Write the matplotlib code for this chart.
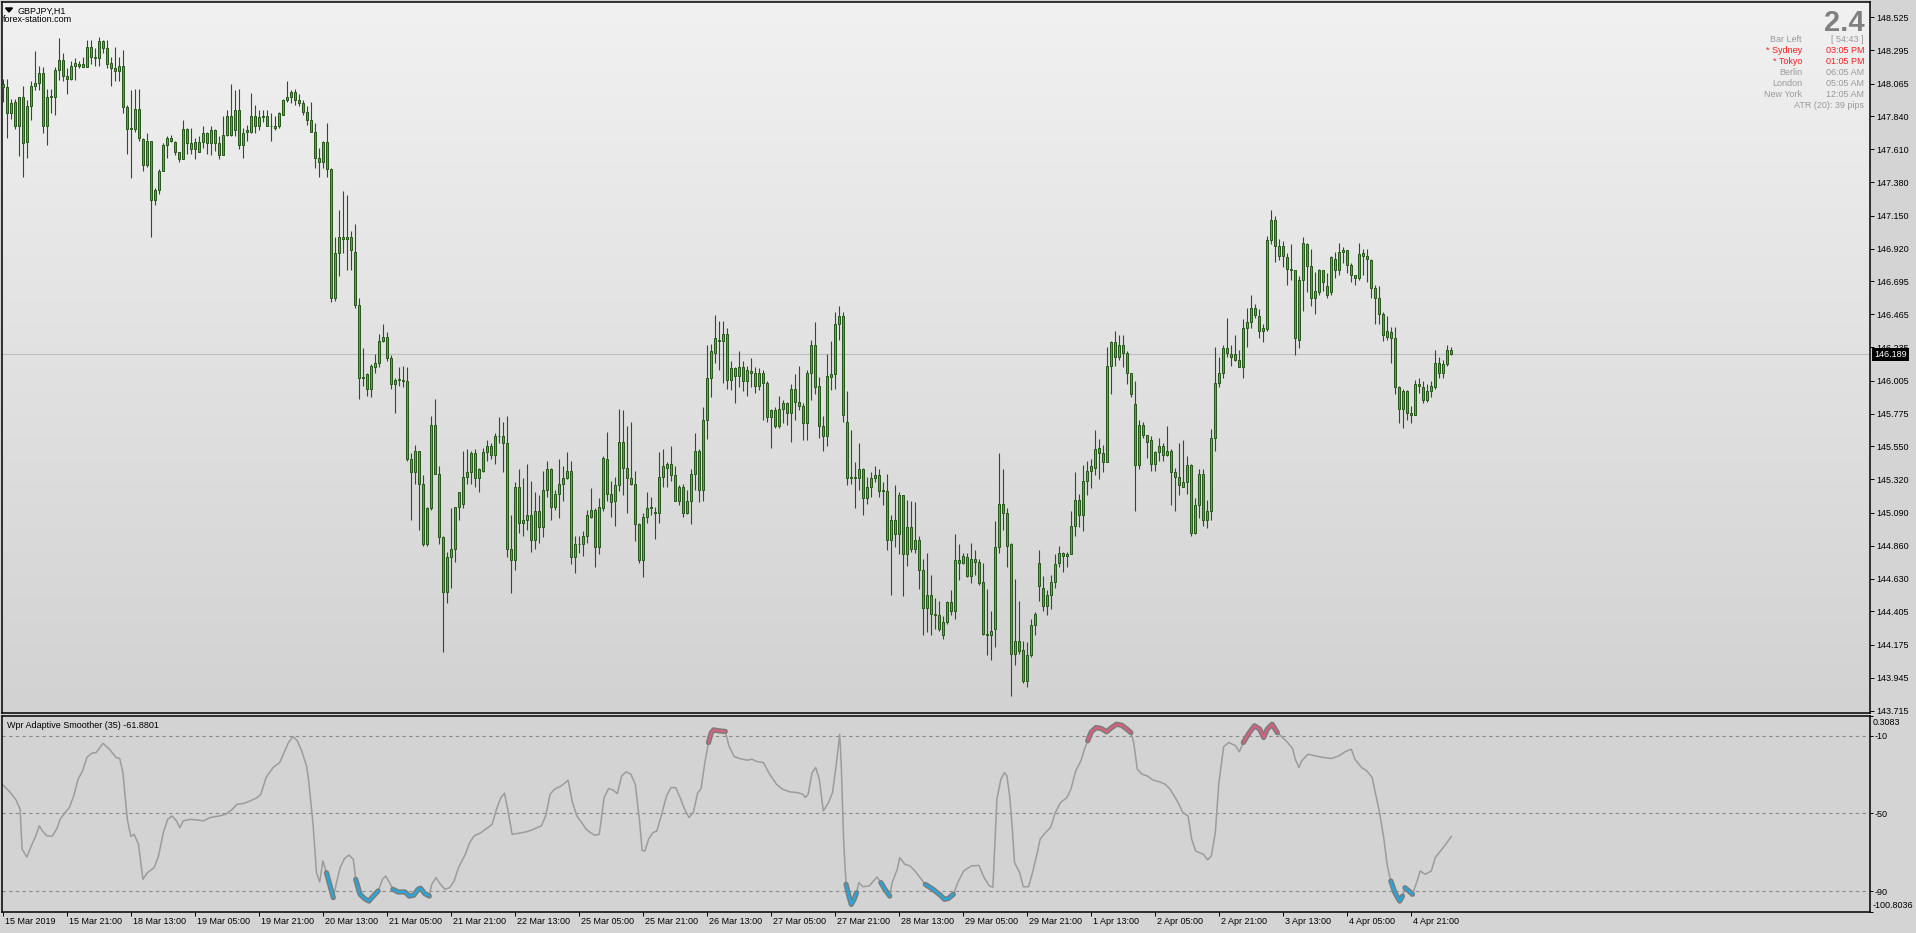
import numpy as np
import matplotlib
matplotlib.use("Agg")
import matplotlib.pyplot as plt
from matplotlib.colors import LinearSegmentedColormap
from matplotlib.patches import Polygon
import matplotlib.transforms as mtrans

plt.rcParams['font.family'] = ['Liberation Sans', 'DejaVu Sans']

# ---------------- data ----------------
symbol_title = "GBPJPY,H1"
site_text = "forex-station.com"
indicator_title = "Wpr Adaptive Smoother (35) -61.8801"

opens = [
    148.06, 148.04, 147.86, 147.94, 147.77, 147.97, 147.66, 147.91, 148.05, 148.07,
    148.14, 147.77, 147.98, 147.97, 148.16, 148.23, 148.12, 148.10, 148.19, 148.20,
    148.18, 148.18, 148.32, 148.25, 148.24, 148.36, 148.31, 148.21, 148.17, 148.15,
    148.19, 147.90, 147.76, 147.75, 147.89, 147.68, 147.50, 147.67, 147.26, 147.33,
    147.46, 147.64, 147.69, 147.66, 147.59, 147.54, 147.75, 147.61, 147.66, 147.59,
    147.66, 147.72, 147.65, 147.74, 147.65, 147.57, 147.71, 147.84, 147.74, 147.88,
    147.64, 147.73, 147.73, 147.84, 147.77, 147.83, 147.84, 147.77, 147.77, 147.77,
    147.85, 147.95, 147.97, 148.01, 147.95, 147.93, 147.87, 147.81, 147.73, 147.52,
    147.52, 147.66, 147.47, 146.58, 146.89, 146.99, 146.99, 147.00, 146.90, 146.53,
    146.02, 146.05, 145.95, 146.10, 146.13, 146.28, 146.31, 146.16, 145.98, 146.01,
    146.01, 146.00, 145.46, 145.37, 145.52, 145.29, 144.87, 145.12, 145.70, 145.36,
    144.92, 144.54, 144.78, 144.84, 145.13, 145.15, 145.34, 145.37, 145.50, 145.33,
    145.38, 145.51, 145.55, 145.49, 145.62, 145.62, 145.57, 144.84, 144.76, 145.27,
    145.02, 145.04, 145.07, 144.90, 145.10, 144.99, 145.25, 145.39, 145.13, 145.22,
    145.29, 145.33, 145.38, 144.78, 144.87, 144.87, 144.93, 145.06, 145.11, 144.85,
    145.12, 145.46, 145.22, 145.17, 145.28, 145.58, 145.40, 145.33, 145.29, 145.01,
    144.76, 145.06, 145.12, 145.09, 145.09, 145.34, 145.40, 145.43, 145.35, 145.17,
    145.27, 145.09, 145.17, 145.36, 145.52, 145.25, 145.73, 146.02, 146.20, 146.29,
    146.28, 146.33, 146.01, 146.04, 146.04, 146.10, 146.00, 146.06, 146.06, 145.97,
    146.06, 145.99, 145.75, 145.80, 145.69, 145.81, 145.85, 145.78, 145.95, 145.86,
    145.83, 145.71, 146.06, 146.25, 145.97, 145.69, 145.62, 146.03, 146.05, 146.40,
    146.45, 145.72, 145.33, 145.33, 145.33, 145.39, 145.19, 145.27, 145.33, 145.35,
    145.24, 145.24, 144.90, 145.04, 144.94, 145.21, 144.80, 144.99, 144.84, 144.90,
    144.69, 144.43, 144.52, 144.39, 144.38, 144.24, 144.33, 144.47, 144.41, 144.76,
    144.74, 144.78, 144.65, 144.77, 144.75, 144.61, 144.24, 144.24, 144.28, 144.85,
    145.15, 145.09, 144.87, 144.11, 144.20, 144.14, 143.92, 144.10, 144.31, 144.74,
    144.57, 144.44, 144.52, 144.61, 144.74, 144.81, 144.79, 144.80, 145.00, 145.18,
    145.07, 145.31, 145.38, 145.40, 145.54, 145.50, 145.44, 146.11, 146.27, 146.17,
    146.25, 146.20, 146.06, 145.84, 145.42, 145.70, 145.63, 145.59, 145.43, 145.51,
    145.55, 145.49, 145.52, 145.37, 145.34, 145.27, 145.30, 145.42, 144.95, 145.14,
    145.36, 145.04, 145.10, 145.61, 145.99, 146.06, 146.23, 146.17, 146.19, 146.15,
    146.10, 146.37, 146.41, 146.51, 146.45, 146.35, 146.36, 146.98, 147.12, 146.87,
    146.94, 146.86, 146.78, 146.77, 146.29, 146.70, 146.95, 146.80, 146.58, 146.62,
    146.77, 146.66, 146.62, 146.77, 146.77, 146.90, 146.91, 146.81, 146.74, 146.72,
    146.87, 146.87, 146.84, 146.65, 146.58, 146.47, 146.31, 146.34, 146.30, 145.96,
    145.81, 145.93, 145.78, 145.77, 145.98, 145.96, 145.87, 145.93, 145.96, 146.13,
    146.06, 146.12, 146.22,
]

highs = [
    148.10, 148.10, 147.96, 147.96, 147.97, 148.05, 147.95, 148.08, 148.29, 148.19,
    148.18, 148.03, 148.03, 148.18, 148.38, 148.28, 148.17, 148.22, 148.24, 148.22,
    148.25, 148.37, 148.37, 148.31, 148.39, 148.37, 148.37, 148.25, 148.32, 148.25,
    148.30, 147.92, 148.02, 148.03, 148.03, 147.69, 147.72, 147.67, 147.34, 147.47,
    147.65, 147.70, 147.71, 147.67, 147.59, 147.81, 147.76, 147.76, 147.69, 147.70,
    147.77, 147.73, 147.77, 147.75, 147.70, 147.84, 147.88, 148.06, 148.02, 148.03,
    147.76, 147.78, 148.00, 147.92, 147.88, 147.88, 147.88, 147.86, 147.84, 147.87,
    147.96, 148.08, 148.02, 148.03, 147.99, 147.95, 147.91, 147.94, 147.79, 147.62,
    147.67, 147.79, 147.48, 147.00, 147.19, 147.32, 147.29, 147.04, 147.09, 146.58,
    146.23, 146.06, 146.12, 146.19, 146.33, 146.40, 146.34, 146.18, 146.02, 146.10,
    146.11, 146.10, 145.50, 145.56, 145.52, 145.35, 145.13, 145.76, 145.88, 145.41,
    144.93, 144.82, 145.12, 145.13, 145.23, 145.52, 145.53, 145.52, 145.53, 145.40,
    145.54, 145.59, 145.57, 145.64, 145.75, 145.72, 145.76, 145.07, 145.30, 145.39,
    145.33, 145.43, 145.31, 145.23, 145.21, 145.38, 145.45, 145.40, 145.25, 145.46,
    145.41, 145.51, 145.45, 144.93, 144.93, 144.96, 145.11, 145.26, 145.12, 145.19,
    145.48, 145.65, 145.31, 145.34, 145.81, 145.80, 145.69, 145.72, 145.38, 145.02,
    145.09, 145.23, 145.20, 145.13, 145.51, 145.53, 145.44, 145.55, 145.41, 145.28,
    145.29, 145.25, 145.39, 145.64, 145.53, 145.82, 146.25, 146.26, 146.46, 146.42,
    146.42, 146.37, 146.14, 146.10, 146.21, 146.14, 146.11, 146.16, 146.10, 146.09,
    146.08, 146.00, 145.81, 145.82, 145.90, 145.87, 145.86, 145.98, 146.05, 146.11,
    145.85, 146.08, 146.29, 146.41, 146.03, 145.76, 146.19, 146.28, 146.48, 146.52,
    146.48, 145.93, 145.66, 145.44, 145.57, 145.40, 145.34, 145.37, 145.41, 145.39,
    145.30, 145.36, 145.07, 145.28, 145.23, 145.21, 145.18, 145.17, 145.16, 144.93,
    144.77, 144.81, 144.66, 144.50, 144.48, 144.37, 144.48, 144.55, 144.94, 144.87,
    144.81, 144.81, 144.88, 144.83, 144.77, 144.74, 144.56, 144.41, 145.03, 145.50,
    145.39, 145.12, 144.88, 144.63, 144.48, 144.20, 144.19, 144.35, 144.40, 144.83,
    144.65, 144.55, 144.66, 144.80, 144.86, 144.82, 144.82, 145.10, 145.37, 145.22,
    145.42, 145.45, 145.46, 145.66, 145.60, 145.56, 146.24, 146.28, 146.35, 146.32,
    146.32, 146.21, 146.06, 146.00, 145.73, 145.72, 145.63, 145.62, 145.52, 145.61,
    145.57, 145.69, 145.53, 145.40, 145.57, 145.59, 145.48, 145.43, 145.19, 145.39,
    145.39, 145.18, 145.67, 146.24, 146.17, 146.25, 146.44, 146.25, 146.32, 146.22,
    146.43, 146.51, 146.60, 146.54, 146.50, 146.40, 147.01, 147.19, 147.15, 146.99,
    146.97, 146.89, 146.95, 146.77, 146.73, 147.00, 146.96, 146.92, 146.76, 146.78,
    146.77, 146.75, 146.87, 146.90, 146.96, 146.93, 146.91, 146.82, 146.74, 146.96,
    146.92, 146.92, 146.85, 146.67, 146.66, 146.48, 146.45, 146.38, 146.38, 145.97,
    145.95, 145.94, 145.83, 146.01, 146.02, 146.00, 145.98, 146.00, 146.22, 146.17,
    146.15, 146.25, 146.24,
]

lows = [
    147.94, 147.69, 147.82, 147.75, 147.56, 147.42, 147.55, 147.81, 148.02, 148.02,
    147.72, 147.64, 147.86, 147.85, 148.09, 148.08, 147.99, 148.09, 148.09, 148.17,
    148.18, 148.18, 148.20, 148.19, 148.19, 148.28, 148.17, 148.05, 148.08, 148.08,
    147.86, 147.58, 147.41, 147.73, 147.67, 147.46, 147.49, 147.00, 147.22, 147.30,
    147.46, 147.55, 147.66, 147.57, 147.52, 147.54, 147.58, 147.58, 147.54, 147.59,
    147.62, 147.58, 147.57, 147.60, 147.54, 147.57, 147.70, 147.70, 147.70, 147.61,
    147.55, 147.67, 147.72, 147.72, 147.74, 147.80, 147.77, 147.67, 147.74, 147.76,
    147.85, 147.94, 147.93, 147.92, 147.91, 147.85, 147.78, 147.73, 147.48, 147.42,
    147.48, 147.42, 146.55, 146.56, 146.73, 146.89, 146.77, 146.77, 146.51, 145.88,
    145.97, 145.90, 145.89, 146.06, 146.10, 146.27, 146.14, 145.95, 145.78, 145.97,
    145.96, 145.45, 145.04, 145.29, 144.97, 144.86, 144.86, 145.11, 145.36, 144.87,
    144.12, 144.46, 144.57, 144.75, 145.04, 145.12, 145.29, 145.29, 145.27, 145.23,
    145.37, 145.45, 145.46, 145.43, 145.57, 145.37, 144.78, 144.53, 144.69, 144.95,
    144.93, 144.97, 144.82, 144.84, 144.88, 144.92, 145.20, 145.04, 145.11, 145.05,
    145.17, 145.32, 144.73, 144.67, 144.81, 144.79, 144.88, 145.05, 144.71, 144.80,
    145.10, 145.17, 145.06, 145.00, 145.24, 145.21, 145.09, 145.28, 144.89, 144.74,
    144.64, 145.02, 145.07, 144.91, 145.02, 145.27, 145.27, 145.31, 145.17, 145.14,
    145.06, 145.08, 145.01, 145.25, 145.16, 145.17, 145.60, 145.89, 146.13, 146.08,
    145.99, 145.95, 145.94, 145.85, 145.96, 145.93, 145.90, 145.96, 145.92, 145.94,
    145.73, 145.72, 145.54, 145.68, 145.68, 145.71, 145.70, 145.58, 145.73, 145.80,
    145.59, 145.59, 145.87, 145.91, 145.61, 145.52, 145.55, 145.94, 145.95, 146.29,
    145.72, 145.28, 145.29, 145.12, 145.25, 145.07, 145.15, 145.20, 145.30, 145.20,
    145.14, 144.83, 144.52, 144.85, 144.80, 144.51, 144.72, 144.82, 144.81, 144.56,
    144.24, 144.26, 144.24, 144.28, 144.27, 144.21, 144.32, 144.38, 144.35, 144.62,
    144.73, 144.64, 144.60, 144.66, 144.59, 144.24, 144.10, 144.07, 144.16, 144.81,
    144.97, 144.71, 143.82, 144.03, 144.11, 143.91, 143.88, 144.09, 144.24, 144.48,
    144.41, 144.38, 144.42, 144.57, 144.71, 144.68, 144.71, 144.80, 144.93, 144.99,
    144.96, 145.21, 145.26, 145.35, 145.32, 145.37, 145.44, 145.91, 146.11, 146.15,
    146.10, 145.98, 145.89, 145.10, 145.39, 145.61, 145.47, 145.38, 145.38, 145.45,
    145.45, 145.48, 145.14, 145.10, 145.21, 145.27, 145.22, 144.93, 144.94, 145.05,
    145.00, 144.98, 145.04, 145.52, 145.96, 146.02, 146.17, 146.11, 146.14, 146.10,
    146.02, 146.24, 146.37, 146.44, 146.30, 146.27, 146.35, 146.95, 146.83, 146.84,
    146.79, 146.67, 146.70, 146.18, 146.23, 146.49, 146.62, 146.52, 146.47, 146.60,
    146.63, 146.58, 146.60, 146.72, 146.74, 146.82, 146.75, 146.69, 146.67, 146.70,
    146.74, 146.69, 146.58, 146.40, 146.40, 146.28, 146.29, 146.13, 145.91, 145.71,
    145.68, 145.73, 145.71, 145.77, 145.92, 145.85, 145.86, 145.89, 145.95, 146.02,
    146.02, 146.11, 146.18,
]

closes = [
    148.04, 147.86, 147.93, 147.77, 147.97, 147.65, 147.91, 148.05, 148.07, 148.14,
    147.77, 147.97, 147.97, 148.16, 148.23, 148.12, 148.10, 148.19, 148.21, 148.19,
    148.20, 148.32, 148.25, 148.24, 148.36, 148.31, 148.20, 148.17, 148.15, 148.19,
    147.90, 147.75, 147.75, 147.89, 147.69, 147.50, 147.67, 147.26, 147.33, 147.46,
    147.64, 147.69, 147.67, 147.59, 147.54, 147.75, 147.65, 147.65, 147.61, 147.66,
    147.72, 147.65, 147.74, 147.65, 147.57, 147.71, 147.84, 147.71, 147.88, 147.64,
    147.72, 147.74, 147.84, 147.77, 147.83, 147.84, 147.77, 147.77, 147.76, 147.86,
    147.95, 147.97, 148.01, 147.95, 147.93, 147.87, 147.81, 147.73, 147.55, 147.55,
    147.66, 147.47, 146.58, 146.89, 147.00, 147.00, 147.00, 146.91, 146.53, 146.02,
    146.03, 145.95, 146.11, 146.13, 146.28, 146.31, 146.16, 145.98, 146.01, 146.01,
    146.00, 145.46, 145.37, 145.52, 145.29, 144.87, 145.12, 145.70, 145.36, 144.92,
    144.54, 144.78, 144.84, 145.13, 145.23, 145.34, 145.37, 145.50, 145.33, 145.39,
    145.51, 145.55, 145.49, 145.62, 145.62, 145.57, 144.84, 144.76, 145.27, 145.02,
    145.04, 145.07, 144.90, 145.10, 144.99, 145.25, 145.39, 145.13, 145.22, 145.29,
    145.33, 145.38, 144.78, 144.87, 144.87, 144.93, 145.07, 145.11, 144.85, 145.13,
    145.47, 145.22, 145.16, 145.28, 145.58, 145.40, 145.33, 145.29, 145.01, 144.76,
    145.06, 145.12, 145.13, 145.09, 145.34, 145.41, 145.43, 145.35, 145.17, 145.27,
    145.09, 145.17, 145.36, 145.52, 145.25, 145.73, 146.02, 146.21, 146.30, 146.28,
    146.33, 146.01, 146.09, 146.09, 146.10, 146.00, 146.08, 146.07, 145.97, 146.06,
    145.99, 145.75, 145.80, 145.69, 145.81, 145.85, 145.78, 145.95, 145.86, 145.83,
    145.71, 146.06, 146.25, 145.96, 145.69, 145.62, 146.04, 146.05, 146.40, 146.45,
    145.77, 145.33, 145.34, 145.33, 145.39, 145.19, 145.27, 145.33, 145.35, 145.24,
    145.24, 144.90, 145.04, 144.94, 145.21, 144.80, 144.99, 144.84, 144.90, 144.69,
    144.43, 144.52, 144.39, 144.38, 144.28, 144.33, 144.47, 144.41, 144.76, 144.74,
    144.79, 144.65, 144.77, 144.75, 144.60, 144.25, 144.25, 144.27, 144.85, 145.15,
    145.09, 144.86, 144.11, 144.20, 144.13, 143.92, 144.10, 144.31, 144.39, 144.58,
    144.44, 144.52, 144.61, 144.73, 144.81, 144.79, 144.80, 145.00, 145.18, 145.07,
    145.31, 145.38, 145.41, 145.53, 145.50, 145.44, 146.11, 146.27, 146.17, 146.25,
    146.20, 146.06, 145.91, 145.42, 145.70, 145.63, 145.58, 145.43, 145.51, 145.55,
    145.49, 145.52, 145.37, 145.34, 145.28, 145.30, 145.42, 144.95, 145.14, 145.36,
    145.04, 145.10, 145.61, 145.99, 146.06, 146.23, 146.20, 146.19, 146.15, 146.10,
    146.37, 146.41, 146.51, 146.46, 146.35, 146.37, 146.98, 147.12, 146.94, 146.94,
    146.87, 146.78, 146.77, 146.30, 146.70, 146.96, 146.80, 146.58, 146.63, 146.77,
    146.69, 146.60, 146.86, 146.85, 146.90, 146.91, 146.81, 146.74, 146.72, 146.88,
    146.89, 146.85, 146.65, 146.58, 146.47, 146.32, 146.35, 146.30, 145.96, 145.81,
    145.93, 145.78, 145.77, 145.98, 145.97, 145.87, 145.93, 145.97, 146.13, 146.06,
    146.12, 146.22, 146.189,
]

# WPR adaptive smoother: traced vertices (bar position, value)
wpr_bar = [
    0.0, 1.4, 3.1, 4.2, 4.7, 5.9, 7.0, 8.1, 9.0, 9.8,
    10.9, 12.3, 13.5, 14.2, 15.4, 16.5, 17.6, 18.7, 19.8, 20.9,
    22.1, 23.2, 24.9, 26.5, 28.2, 29.1, 29.9, 31.0, 31.9, 32.7,
    33.8, 34.9, 36.0, 37.7, 38.8, 40.0, 41.1, 42.2, 43.3, 44.1,
    45.0, 46.7, 48.4, 50.0, 51.7, 53.9, 55.6, 57.3, 58.4, 60.1,
    61.8, 63.5, 64.4, 65.7, 67.4, 69.1, 70.2, 71.3, 72.4, 73.5,
    74.6, 75.8, 76.3, 77.4, 78.3, 79.1, 79.9, 80.8, 81.7, 82.5,
    83.3, 84.2, 85.3, 86.4, 87.5, 88.1, 89.2, 90.3, 91.4, 92.5,
    93.7, 94.8, 95.6, 96.5, 97.4, 98.7, 100.4, 101.5, 102.6, 103.7,
    104.3, 105.4, 106.5, 107.1, 108.2, 109.3, 110.4, 111.6, 112.7, 113.8,
    115.5, 116.6, 117.7, 119.4, 121.1, 122.2, 123.3, 124.4, 125.3, 126.1,
    127.2, 128.9, 130.6, 132.2, 133.4, 134.5, 135.6, 136.7, 137.8, 139.5,
    141.2, 142.3, 143.4, 144.6, 145.7, 146.8, 147.9, 149.0, 150.2, 151.3,
    152.4, 153.5, 154.6, 155.7, 156.9, 158.0, 159.1, 159.7, 160.4, 161.3,
    162.4, 163.4, 164.7, 165.8, 166.9, 168.1, 169.2, 170.3, 171.4, 172.5,
    173.6,
    174.4, 175.4, 176.3, 177.0, 177.6, 178.9, 180.5, 181.4, 182.7, 184.0,
    185.9, 187.2, 188.4, 190.0, 191.6, 193.3, 194.8, 196.7, 198.6, 199.9,
    200.5, 201.2, 202.2, 203.1, 204.0, 205.0, 206.3, 207.3, 208.2, 209.1,
    209.5, 210.1, 210.7, 211.4, 212.0, 212.7, 213.3, 213.9, 214.9, 216.5,
    218.4, 219.4, 220.3, 221.6, 222.2, 223.5, 224.1, 225.4, 226.7, 227.9,
    229.2, 230.5, 232.4, 234.3, 235.3, 236.3, 237.5, 238.8, 240.1, 242.0,
    243.9, 245.2, 246.5, 247.4, 248.4, 249.4, 250.3, 250.9, 251.6, 252.2,
    252.8, 254.1, 255.0, 256.3, 257.3, 258.6, 259.2, 260.5, 261.8, 263.0,
    264.3, 265.9, 266.9, 268.1, 269.4, 270.3, 271.1, 272.0, 273.2, 274.5,
    275.8, 277.1, 278.3, 279.6, 280.9, 281.9, 282.6, 283.5, 284.7, 286.0,
    287.3, 289.2, 290.5, 291.7, 293.7, 294.9, 296.2, 297.1, 298.1, 299.1,
    300.0, 301.1, 302.0, 303.0, 303.9, 305.1, 306.4, 308.1, 309.0, 310.0,
    311.5, 312.8, 314.1, 315.1, 316.0, 317.2, 318.5, 319.8, 321.1, 322.3,
    323.0, 323.9, 324.6, 326.2, 328.1, 330.0, 332.0, 333.9, 335.4, 337.0,
    337.9, 339.6, 340.9, 342.2, 343.0, 344.0, 345.1, 346.0, 346.9, 347.9,
    349.1, 349.8, 350.4, 351.4, 352.3, 353.6, 354.2, 355.5, 357.0, 358.0,
    359.3, 360.6, 362.0,
]

wpr_val = [
    -35.6, -38.5, -42.8, -47.9, -68.5, -72.5, -66.8, -61.7, -56.5, -59.1,
    -61.7, -61.7, -57.4, -53.1, -49.7, -47.1, -41.1, -32.5, -28.2, -21.3,
    -19.1, -18.8, -14.0, -17.0, -21.3, -21.8, -29.1, -53.1, -62.0, -60.8,
    -66.0, -84.0, -80.6, -78.0, -72.0, -60.0, -53.1, -51.4, -53.9, -57.4,
    -53.9, -53.1, -53.4, -53.9, -52.2, -51.4, -50.5, -47.9, -45.4, -44.9,
    -43.6, -41.9, -40.2, -31.6, -26.5, -23.9, -18.8, -13.6, -10.5, -12.7,
    -17.9, -25.6, -32.5, -54.8, -80.6, -85.4, -74.5, -80.6, -87.4, -93.4,
    -85.7, -78.0, -73.3, -71.5, -73.7, -84.0, -91.7, -93.9, -95.2, -92.6,
    -90.0, -84.0, -82.3, -85.4, -89.1, -90.5, -90.5, -92.6, -92.2, -89.1,
    -88.6, -91.4, -92.6, -86.6, -83.1, -86.6, -89.1, -88.3, -84.9, -78.0,
    -71.1, -65.1, -61.7, -60.0, -57.4, -55.7, -47.9, -41.9, -39.7, -47.9,
    -60.8, -60.3, -59.6, -58.6, -57.4, -56.5, -51.4, -40.2, -37.6, -35.9,
    -33.0, -44.5, -51.4, -54.8, -58.2, -60.0, -61.3, -60.8, -41.9, -37.3,
    -38.0, -39.9, -30.8, -28.7, -29.9, -35.1, -54.8, -69.1, -69.4, -63.4,
    -60.0, -59.1, -49.7, -41.1, -36.8, -36.8, -41.9, -47.9, -52.2, -49.7,
    -39.4,
    -37.6, -23.9, -13.6, -8.5, -7.1, -7.6, -7.9, -15.3, -20.8, -21.8,
    -22.7, -22.2, -23.4, -23.9, -29.9, -35.1, -37.6, -39.0, -39.4, -40.2,
    -41.9, -40.2, -29.1, -26.5, -32.5, -48.8, -44.5, -39.4, -25.6, -9.3,
    -25.6, -65.1, -86.6, -92.6, -96.9, -94.3, -90.9, -85.7, -87.8, -87.4,
    -82.8, -85.7, -88.8, -92.6, -85.7, -78.8, -72.8, -76.3, -77.1, -79.7,
    -83.1, -86.6, -89.1, -92.2, -94.3, -93.8, -91.7, -84.9, -79.7, -77.1,
    -76.8, -83.1, -87.4, -88.0, -42.8, -32.5, -29.1, -30.8, -41.1, -56.5,
    -75.4, -80.6, -87.8, -87.8, -80.6, -69.4, -63.4, -60.0, -57.4, -49.7,
    -44.5, -41.9, -37.6, -28.2, -23.0, -17.0, -12.7, -8.1, -5.9, -6.4,
    -8.1, -5.9, -4.2, -4.7, -6.7, -8.5, -13.6, -27.3, -29.9, -30.8,
    -32.8, -33.9, -35.1, -37.6, -44.5, -49.7, -51.4, -63.4, -69.4, -70.3,
    -71.1, -74.0, -72.0, -60.0, -34.2, -15.7, -13.6, -15.3, -18.4, -13.6,
    -8.5, -5.0, -6.7, -11.0, -6.7, -4.2, -8.5, -11.0, -13.6, -16.7,
    -22.2, -26.5, -23.0, -19.6, -20.5, -21.3, -21.8, -20.5, -18.4, -17.0,
    -22.2, -26.5, -28.2, -31.6, -39.4, -48.8, -62.5, -77.1, -84.9, -90.9,
    -95.2, -92.6, -88.3, -90.0, -91.7, -84.0, -79.7, -81.4, -79.7, -72.8,
    -69.4, -66.0, -61.88,
]

# highlighted stretches (bar ranges) of the smoother
oversold_zones = [(80.8, 82.5), (88.1, 93.7), (97.4, 106.5), (210.7, 213.3),
                  (219.4, 221.6), (230.5, 237.5), (346.9, 349.8), (350.4, 352.3)]
overbought_zones = [(176.3, 180.5), (271.1, 281.9), (310.0, 318.5)]

time_labels = ["15 Mar 2019", "15 Mar 21:00", "18 Mar 13:00", "19 Mar 05:00",
               "19 Mar 21:00", "20 Mar 13:00", "21 Mar 05:00", "21 Mar 21:00",
               "22 Mar 13:00", "25 Mar 05:00", "25 Mar 21:00", "26 Mar 13:00",
               "27 Mar 05:00", "27 Mar 21:00", "28 Mar 13:00", "29 Mar 05:00",
               "29 Mar 21:00", "1 Apr 13:00", "2 Apr 05:00", "2 Apr 21:00",
               "3 Apr 13:00", "4 Apr 05:00", "4 Apr 21:00"]
label_step = 16

price_ticks = [148.525, 148.295, 148.065, 147.840, 147.610, 147.380, 147.150,
               146.920, 146.695, 146.465, 146.235, 146.005, 145.775, 145.550,
               145.320, 145.090, 144.860, 144.630, 144.405, 144.175, 143.945,
               143.715]
price_min, price_max = 143.700, 148.631
last_price = 146.189

ind_levels = [-10, -50, -90]
ind_min, ind_max = -100.8036, 0.3083

big_number = "2.4"
info_rows = [("Bar Left", "[ 54:43 ]", "gray"),
             ("* Sydney", "03:05 PM", "red"),
             ("* Tokyo", "01:05 PM", "red"),
             ("Berlin", "06:05 AM", "gray"),
             ("London", "05:05 AM", "gray"),
             ("New York", "12:05 AM", "gray")]
atr_text = "ATR (20): 39 pips"

# ---------------- figure ----------------
n = len(closes)
assert len(opens) == n and len(highs) == n and len(lows) == n
assert len(wpr_bar) == len(wpr_val)

W, H = 1916, 933
fig = plt.figure(figsize=(W / 100, H / 100), dpi=100)
fig.patch.set_facecolor('#D4D4D4')


def fx(px):
    return px / W


def fy(py):
    return 1 - py / H


ax = fig.add_axes([fx(2), fy(713), (1870 - 2) / W, (713 - 2) / H])
ax2 = fig.add_axes([fx(2), fy(912), (1870 - 2) / W, (912 - 715.5) / H])

x_left = -0.325
x_right = x_left + (1870 - 2) / 4.0

# gradient background of price panel
grad = np.linspace(0, 1, 256).reshape(-1, 1)
cmap = LinearSegmentedColormap.from_list('bg', ['#F1F1F1', '#D2D2D2'])
ax.imshow(grad, extent=[0, 1, 0, 1], transform=ax.transAxes, aspect='auto',
          cmap=cmap, origin='upper', zorder=0, interpolation='bilinear')

idx = np.arange(n)
o = np.array(opens)
c = np.array(closes)
h = np.array(highs)
l = np.array(lows)
bull = c >= o
edge = '#24561A'

ax.axhline(last_price, color='#BDBDBD', lw=0.8, zorder=1)
ax.vlines(idx, l, h, color=edge, lw=0.8, zorder=2)
body_bottom = np.minimum(o, c)
body_h = np.maximum(np.abs(c - o), 0.004)
ax.bar(idx[bull], body_h[bull], bottom=body_bottom[bull], width=0.55,
       color='#3CC03C', edgecolor=edge, linewidth=0.7, zorder=3)
ax.bar(idx[~bull], body_h[~bull], bottom=body_bottom[~bull], width=0.55,
       color='#D2693A', edgecolor=edge, linewidth=0.7, zorder=3)

for a in (ax, ax2):
    a.set_xlim(x_left, x_right)
    for s in a.spines.values():
        s.set_color('black')
        s.set_linewidth(1.1)

ax.set_ylim(price_min, price_max)
ax.yaxis.tick_right()
ax.set_yticks(price_ticks)
ax.set_yticklabels([f"{p:.3f}" for p in price_ticks])
ax.tick_params(axis='y', direction='out', length=3, width=0.7, labelsize=6.5,
               pad=1.8, colors='black')
ax.tick_params(axis='x', bottom=False, labelbottom=False)

# ---------------- indicator panel ----------------
ax2.set_facecolor('#D3D3D3')
ax2.set_ylim(ind_min, ind_max)
for lv in ind_levels:
    ax2.axhline(lv, color='#8A8A8A', lw=0.8, ls=(0, (3, 3)), zorder=1)

wb = np.array(wpr_bar)
wv = np.array(wpr_val)
ax2.plot(wb, wv, color='#9C9C9C', lw=1.1, zorder=2)
for zones, col in ((oversold_zones, '#22A9E0'), (overbought_zones, '#D8607E')):
    for a0, a1 in zones:
        m = (wb >= a0 - 1e-6) & (wb <= a1 + 1e-6)
        ax2.plot(wb[m], wv[m], color='#7C7C7C', lw=3.8, zorder=3,
                 solid_capstyle='round', solid_joinstyle='round')
        ax2.plot(wb[m], wv[m], color=col, lw=1.6, zorder=4,
                 solid_capstyle='round', solid_joinstyle='round')

ax2.yaxis.tick_right()
ax2.set_yticks([ind_max] + ind_levels + [ind_min])
ax2.set_yticklabels([''] + [str(v) for v in ind_levels] + [''])
ax2.tick_params(axis='y', direction='out', length=2, width=0.7, labelsize=6.5,
                pad=1, colors='black')
label_bars = [k * label_step for k in range(len(time_labels))]
ax2.set_xticks(label_bars)
ax2.set_xticklabels([])
ax2.tick_params(axis='x', direction='out', length=3, width=0.7)

trans = mtrans.blended_transform_factory(ax2.transData, fig.transFigure)
for b, lab in zip(label_bars, time_labels):
    ax2.text(b + 0.45, fy(924), lab, transform=trans, ha='left', va='baseline',
             fontsize=6.5, color='black', clip_on=False)

fig.text(fx(1873), fy(722.5), f"{ind_max:.4f}", fontsize=6.5, color='black', va='center')
fig.text(fx(1873), fy(905.5), f"{ind_min:.4f}", fontsize=6.5, color='black', va='center')
fig.text(fx(7), fy(728), indicator_title, fontsize=6.5, color='black', va='baseline')

# ---------------- header texts ----------------
tri = Polygon([[fx(5.5), fy(8)], [fx(12.5), fy(8)], [fx(9), fy(12)]], closed=True,
              transform=fig.transFigure, facecolor='black', edgecolor='black')
fig.add_artist(tri)
fig.text(fx(18), fy(14), symbol_title, fontsize=6.5, color='black', va='baseline')
fig.text(fx(3), fy(22.5), site_text, fontsize=6.5, color='black', va='baseline')

fig.text(fx(1865), fy(30.7), big_number, fontsize=21, fontweight='bold',
         color='#808080', ha='right', va='baseline')
colors = {'gray': '#9A9A9A', 'red': '#FF1A1A'}
for k, (lab, val, col) in enumerate(info_rows):
    yb = 42.3 + 11.0 * k
    fig.text(fx(1802), fy(yb), lab, fontsize=6.5, color=colors[col], ha='right', va='baseline')
    fig.text(fx(1864), fy(yb), val, fontsize=6.5, color=colors[col], ha='right', va='baseline')
fig.text(fx(1864), fy(42.3 + 11.0 * len(info_rows)), atr_text, fontsize=6.5,
         color=colors['gray'], ha='right', va='baseline')

# current price tag
fig.text(fx(1874), fy(354.3), f"{last_price:.3f}", fontsize=6.5, color='white',
         ha='left', va='center',
         bbox=dict(boxstyle='square,pad=0.25', fc='black', ec='black', lw=0))

fig.savefig('out.png', dpi=100, facecolor=fig.get_facecolor())
